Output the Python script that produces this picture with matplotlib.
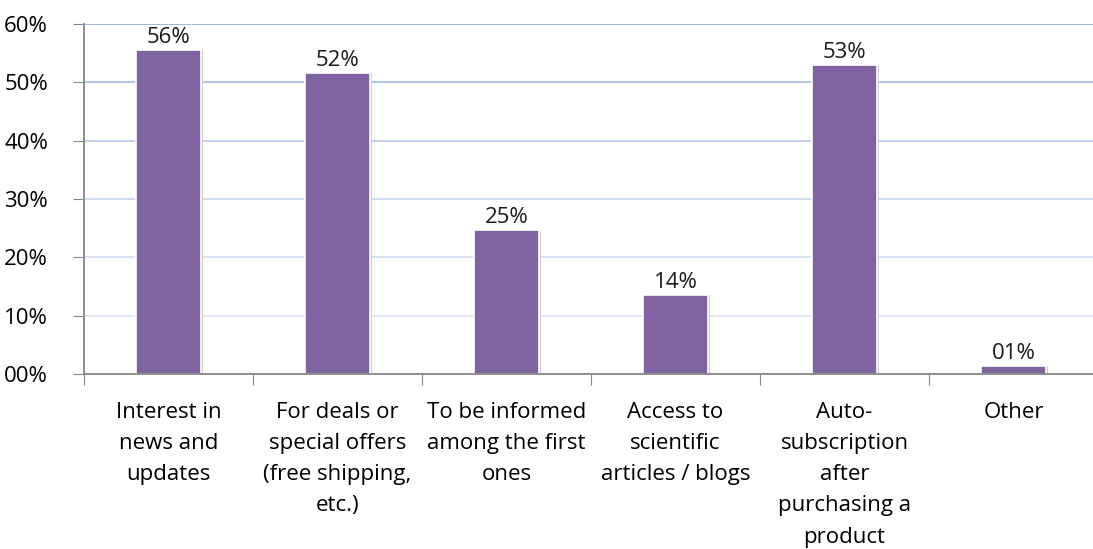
import numpy as np
import matplotlib.pyplot as plt

plt.rcParams['font.family'] = ['Open Sans', 'DejaVu Sans']

categories = ["Interest in\nnews and\nupdates",
              "For deals or\nspecial offers\n(free shipping,\netc.)",
              "To be informed\namong the first\nones",
              "Access to\nscientific\narticles / blogs",
              "Auto-\nsubscription\nafter\npurchasing a\nproduct",
              "Other"]
values = [55.5, 51.6, 24.7, 13.5, 53.0, 1.4]
labels = ["56%", "52%", "25%", "14%", "53%", "01%"]
yticks = [0, 10, 20, 30, 40, 50, 60]
ytick_labels = ["00%", "10%", "20%", "30%", "40%", "50%", "60%"]

fs = 16

fig = plt.figure(figsize=(10.93, 5.49), dpi=100)
ax = fig.add_axes([84 / 1093, 1 - 374 / 549, (1098 - 84) / 1093, 350 / 549])

x = np.arange(len(values))
grid_cols = ['#e6ebf4', '#dfe6f2', '#d5dff0', '#c9d7ed', '#bccde9', '#a9c0e3', '#95b3d7']
for yv, c in zip(yticks[1:], grid_cols[1:]):
    ax.axhline(yv, color=c, lw=1.3, zorder=0)

# faint shadow then the bar
ax.bar(x + 0.008, values, width=0.39, color='#d0d0d0', zorder=1)
ax.bar(x, values, width=0.385, color='#8064a2', edgecolor='white', linewidth=1.2, zorder=2)

for xi, v, lab in zip(x, values, labels):
    ax.text(xi, v + 1.2, lab, ha='center', va='baseline', fontsize=fs, color='#1a1a1a')

ax.set_xlim(-0.5, len(values) - 0.5)
ax.set_ylim(0, 60)
ax.set_yticks(yticks)
ax.set_yticklabels(ytick_labels, fontsize=fs)
ax.set_xticks(np.arange(len(values) + 1) - 0.5)
ax.set_xticklabels([])
ax.set_xticks(x, minor=True)
ax.set_xticklabels(categories, minor=True, fontsize=fs, va='top', linespacing=1.64)
ax.tick_params(axis='x', which='minor', length=0, pad=20)
ax.tick_params(axis='x', which='major', length=8, color='#868686', direction='out')
ax.tick_params(axis='y', length=8, color='#868686', direction='out', pad=18)

for s in ['top', 'right']:
    ax.spines[s].set_visible(False)
for s in ['left', 'bottom']:
    ax.spines[s].set_color('#868686')
    ax.spines[s].set_linewidth(1.3)

fig.savefig('out.png', dpi=100)
